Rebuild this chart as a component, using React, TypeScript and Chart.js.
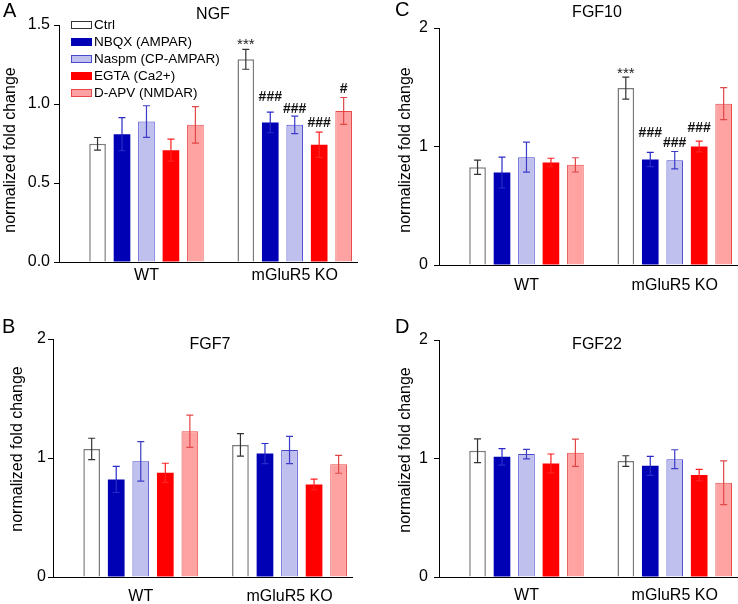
import React, { useEffect, useRef } from 'react';
import { Chart, registerables } from 'chart.js';

Chart.register(...registerables);
Chart.defaults.font.family = '"Liberation Sans", Arial, sans-serif';

// ---------- data ----------
const groups = ['WT', 'mGluR5 KO'];
const treatments = ['Ctrl', 'NBQX (AMPAR)', 'Naspm (CP-AMPAR)', 'EGTA (Ca2+)', 'D-APV (NMDAR)'];

// NGF
const ngfWT = [0.748, 0.809, 0.889, 0.708, 0.868];
const ngfWTErr = [0.04, 0.105, 0.1, 0.07, 0.115];
const ngfKO = [1.283, 0.883, 0.868, 0.742, 0.956];
const ngfKOErr = [0.063, 0.065, 0.055, 0.08, 0.085];
const ngfKOMarks = ['***', '###', '###', '###', '#'];
const ngfKOMarkLevel = [1.345, 1.019, 0.943, 0.854, 1.07];
const ngfTicks = ['0.0', '0.5', '1.0', '1.5'];

// FGF10
const fgf10WT = [0.825, 0.78, 0.91, 0.865, 0.845];
const fgf10WTErr = [0.06, 0.13, 0.127, 0.036, 0.06];
const fgf10KO = [1.493, 0.89, 0.885, 1.0, 1.361];
const fgf10KOErr = [0.093, 0.06, 0.073, 0.045, 0.135];
const fgf10KOMarks = ['***', '###', '###', '###', ''];
const fgf10KOMarkLevel = [1.575, 1.08, 0.996, 1.122, 0];

// FGF7
const fgf7WT = [1.076, 0.82, 0.972, 0.876, 1.225];
const fgf7WTErr = [0.09, 0.11, 0.166, 0.08, 0.135];
const fgf7KO = [1.11, 1.037, 1.067, 0.778, 0.947];
const fgf7KOErr = [0.095, 0.085, 0.115, 0.045, 0.075];

// FGF22
const fgf22WT = [1.065, 1.014, 1.037, 0.958, 1.048];
const fgf22WTErr = [0.1, 0.07, 0.04, 0.08, 0.115];
const fgf22KO = [0.978, 0.938, 0.994, 0.86, 0.795];
const fgf22KOErr = [0.045, 0.08, 0.08, 0.048, 0.185];

const noMarks = ['', '', '', '', ''];
const noLevels = [0, 0, 0, 0, 0];
const intTicks = ['0', '1', '2'];

// ---------- styles ----------
const treatmentFill = ['#ffffff', '#0000b4', '#c0c0ee', '#ff0000', '#ffa2a2'];
const treatmentBorder = ['#7a7a7a', '#0000b4', '#4848d0', '#ff0000', '#e84848'];
const treatmentBorderWidth = [1.5, 0, 1, 0, 1];
const treatmentErr = ['#333333', '#2a2ac8', '#3c3cc8', '#ff2020', '#e04848'];
const FONT = '"Liberation Sans", Arial, sans-serif';

type PanelCfg = {
  left: number; top: number; w: number; h: number;
  axisX: number; axisTop: number; axisBottom: number; axisRight: number;
  xPad: number; yPad: number;
  yMax: number; yStep: number; yTicks: string[];
  letter: string; letterX: number; letterY: number;
  title: string; titleX: number; titleY: number;
  yTitleX: number; yTitleY: number;
  legend: boolean;
  means: number[][]; errs: number[][]; marks: string[][]; markLevels: number[][];
};

const panels: PanelCfg[] = [
  {
    left: 0, top: 0, w: 369, h: 300, axisX: 59, axisTop: 25, axisBottom: 262, axisRight: 357,
    xPad: 4, yPad: 4, yMax: 1.5, yStep: 0.5, yTicks: ngfTicks,
    letter: 'A', letterX: 3, letterY: 17, title: 'NGF', titleX: 213, titleY: 19,
    yTitleX: 15, yTitleY: 150, legend: true,
    means: [ngfWT, ngfKO], errs: [ngfWTErr, ngfKOErr],
    marks: [noMarks, ngfKOMarks], markLevels: [noLevels, ngfKOMarkLevel],
  },
  {
    left: 370, top: 0, w: 368, h: 300, axisX: 69, axisTop: 28, axisBottom: 265, axisRight: 367,
    xPad: 11, yPad: 6, yMax: 2, yStep: 1, yTicks: intTicks,
    letter: 'C', letterX: 25, letterY: 16, title: 'FGF10', titleX: 227, titleY: 17,
    yTitleX: 40, yTitleY: 150, legend: false,
    means: [fgf10WT, fgf10KO], errs: [fgf10WTErr, fgf10KOErr],
    marks: [noMarks, fgf10KOMarks], markLevels: [noLevels, fgf10KOMarkLevel],
  },
  {
    left: 0, top: 300, w: 370, h: 304, axisX: 53, axisTop: 39, axisBottom: 277, axisRight: 352,
    xPad: 10, yPad: 2, yMax: 2, yStep: 1, yTicks: intTicks,
    letter: 'B', letterX: 2, letterY: 33, title: 'FGF7', titleX: 210, titleY: 49,
    yTitleX: 22, yTitleY: 149, legend: false,
    means: [fgf7WT, fgf7KO], errs: [fgf7WTErr, fgf7KOErr],
    marks: [noMarks, noMarks], markLevels: [noLevels, noLevels],
  },
  {
    left: 370, top: 300, w: 368, h: 304, axisX: 69, axisTop: 40, axisBottom: 277, axisRight: 367,
    xPad: 8.5, yPad: 6, yMax: 2, yStep: 1, yTicks: intTicks,
    letter: 'D', letterX: 25, letterY: 33, title: 'FGF22', titleX: 227, titleY: 49,
    yTitleX: 40, yTitleY: 150, legend: false,
    means: [fgf22WT, fgf22KO], errs: [fgf22WTErr, fgf22KOErr],
    marks: [noMarks, noMarks], markLevels: [noLevels, noLevels],
  },
];

const errorBarPlugin = {
  id: 'errorBars',
  afterDatasetsDraw(chart: any) {
    const { ctx } = chart;
    const ys = chart.scales.y;
    chart.data.datasets.forEach((ds: any, di: number) => {
      const meta = chart.getDatasetMeta(di);
      meta.data.forEach((el: any, i: number) => {
        const v = ds.data[i].y;
        const e = ds.errors[i];
        const x = el.x;
        const y1 = ys.getPixelForValue(v + e);
        const y2 = ys.getPixelForValue(v - e);
        ctx.save();
        ctx.strokeStyle = treatmentErr[di];
        ctx.lineWidth = 1.2;
        ctx.beginPath();
        ctx.moveTo(x, y1); ctx.lineTo(x, y2);
        ctx.moveTo(x - 3.5, y1); ctx.lineTo(x + 3.5, y1);
        ctx.moveTo(x - 3.5, y2); ctx.lineTo(x + 3.5, y2);
        ctx.stroke();
        const m = ds.marks[i];
        if (m) {
          const star = m.startsWith('*');
          ctx.fillStyle = star ? '#222' : '#111';
          ctx.textAlign = 'center';
          ctx.textBaseline = 'alphabetic';
          ctx.font = star ? `15px ${FONT}` : `bold 14px ${FONT}`;
          ctx.fillText(m, x, ys.getPixelForValue(ds.markLevels[i]));
        }
        ctx.restore();
      });
    });
  },
};

function makeDecorPlugin(cfg: PanelCfg) {
  return {
    id: 'decor',
    afterDraw(chart: any) {
      const { ctx } = chart;
      ctx.save();
      ctx.fillStyle = '#000';
      ctx.textBaseline = 'alphabetic';
      ctx.textAlign = 'left';
      ctx.font = `20px ${FONT}`;
      ctx.fillText(cfg.letter, cfg.letterX, cfg.letterY);
      ctx.textAlign = 'center';
      ctx.font = `16px ${FONT}`;
      ctx.fillText(cfg.title, cfg.titleX, cfg.titleY);
      ctx.save();
      ctx.translate(cfg.yTitleX, cfg.yTitleY);
      ctx.rotate(-Math.PI / 2);
      ctx.fillText('normalized fold change', 0, 0);
      ctx.restore();
      if (cfg.legend) {
        ctx.font = `13.5px ${FONT}`;
        ctx.textAlign = 'left';
        ctx.textBaseline = 'middle';
        treatments.forEach((t, i) => {
          const cy = 25 + i * 17;
          ctx.fillStyle = treatmentFill[i];
          ctx.fillRect(71, cy - 4, 21, 8);
          if (treatmentBorderWidth[i] > 0) {
            ctx.strokeStyle = i === 0 ? '#333' : treatmentBorder[i];
            ctx.lineWidth = 1;
            ctx.strokeRect(71.5, cy - 3.5, 20, 7);
          }
          ctx.fillStyle = '#000';
          ctx.fillText(t, 94, cy + 0.5);
        });
      }
      ctx.restore();
    },
  };
}

function Panel({ cfg }: { cfg: PanelCfg }) {
  const ref = useRef<HTMLCanvasElement>(null);
  useEffect(() => {
    const chart = new Chart(ref.current as HTMLCanvasElement, {
      type: 'bar',
      data: {
        datasets: treatments.map((t, ti) => ({
          label: t,
          data: groups.map((g, gi) => ({ x: gi, y: cfg.means[gi][ti] })),
          errors: groups.map((g, gi) => cfg.errs[gi][ti]),
          marks: groups.map((g, gi) => cfg.marks[gi][ti]),
          markLevels: groups.map((g, gi) => cfg.markLevels[gi][ti]),
          backgroundColor: treatmentFill[ti],
          borderColor: treatmentBorder[ti],
          borderWidth: treatmentBorderWidth[ti],
          categoryPercentage: 0.825,
          barPercentage: 0.68,
        })) as any,
      },
      options: {
        responsive: false,
        animation: false,
        devicePixelRatio: 1,
        layout: { padding: { left: 0, top: cfg.axisTop, right: cfg.w - cfg.axisRight, bottom: 0 } },
        plugins: { legend: { display: false }, tooltip: { enabled: false }, title: { display: false } },
        scales: {
          x: {
            type: 'linear',
            min: -0.59,
            max: 1.42,
            offset: false,
            bounds: 'data',
            grid: { display: false, drawTicks: false },
            border: { display: true, color: '#000', width: 1 },
            afterBuildTicks: (s: any) => { s.ticks = groups.map((_, i) => ({ value: i })); },
            afterFit: (s: any) => { s.height = cfg.h - cfg.axisBottom; },
            ticks: {
              callback: (v: any) => groups[v as number] ?? '',
              font: { size: 16 },
              color: '#000',
              padding: cfg.xPad,
              autoSkip: false,
              maxRotation: 0,
            },
          },
          y: {
            type: 'linear',
            min: 0,
            max: cfg.yMax,
            bounds: 'data',
            afterBuildTicks: (s: any) => { s.ticks = cfg.yTicks.map((_, i) => ({ value: i * cfg.yStep })); },
            afterFit: (s: any) => { s.width = cfg.axisX; },
            grid: { display: true, drawOnChartArea: false, drawTicks: true, tickLength: 5, color: '#000' },
            border: { display: true, color: '#000', width: 1 },
            ticks: {
              callback: (v: any, i: number) => cfg.yTicks[i],
              font: { size: 16 },
              color: '#000',
              padding: cfg.yPad,
            },
          },
        } as any,
      },
      plugins: [errorBarPlugin, makeDecorPlugin(cfg)],
    });
    return () => chart.destroy();
  }, []);
  return (
    <canvas
      ref={ref}
      width={cfg.w}
      height={cfg.h}
      style={{ position: 'absolute', left: cfg.left, top: cfg.top, width: cfg.w, height: cfg.h }}
    />
  );
}

export default function App() {
  return (
    <div style={{ position: 'absolute', left: 0, top: 0, width: 738, height: 604, background: '#fff', overflow: 'hidden' }}>
      {panels.map((p, i) => (
        <Panel key={i} cfg={p} />
      ))}
    </div>
  );
}
